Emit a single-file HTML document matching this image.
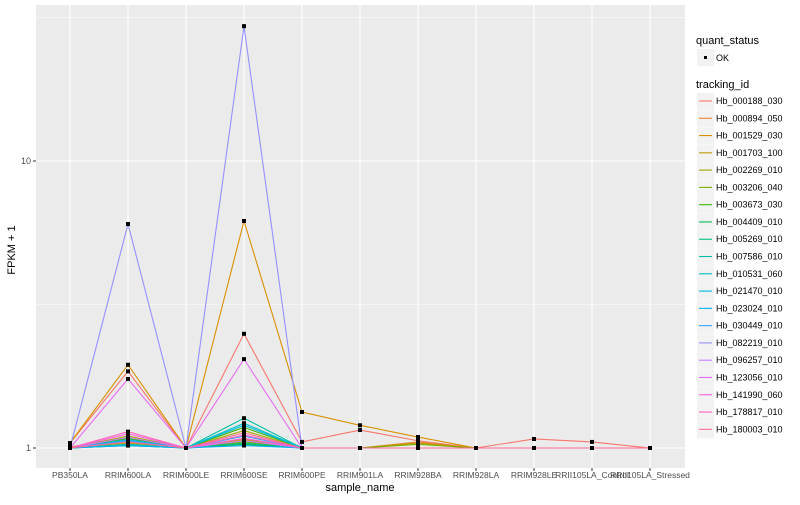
<!DOCTYPE html>
<html><head><meta charset="utf-8"><style>
body{margin:0;background:#fff;font-family:"Liberation Sans",sans-serif}
svg text{font-family:"Liberation Sans",sans-serif}
</style></head><body>
<svg id="c" width="800" height="500" xmlns="http://www.w3.org/2000/svg"></svg>
<script>
const categories=["PB350LA","RRIM600LA","RRIM600LE","RRIM600SE","RRIM600PE","RRIM901LA","RRIM928BA","RRIM928LA","RRIM928LE","RRII105LA_Control","RRII105LA_Stressed"];
const ids=["Hb_000188_030","Hb_000894_050","Hb_001529_030","Hb_001703_100","Hb_002269_010","Hb_003206_040","Hb_003673_030","Hb_004409_010","Hb_005269_010","Hb_007586_010","Hb_010531_060","Hb_021470_010","Hb_023024_010","Hb_030449_010","Hb_082219_010","Hb_096257_010","Hb_123056_010","Hb_141990_060","Hb_178817_010","Hb_180003_010"];
const colors=["#F8766D","#EA8331","#D89000","#C09B00","#A3A500","#7CAE00","#39B600","#00BB4E","#00BF7D","#00C1A3","#00BFC4","#00BAE0","#00B0F6","#35A2FF","#9590FF","#C77CFF","#E76BF3","#FA62DB","#FF62BC","#FF6C91"];
const s0=[1.04,1.85,1,2.50,1.05,1.155,1.06,1,1.075,1.05,1];
const s1=[1.01,1.06,1,1.08,1,1,1.05,1,1,1,1];
const s2=[1.04,1.95,1,6.18,1.335,1.20,1.092,1,1,1,1];
const s3=[1,1.04,1,1.07,1,1,1.04,1,1,1,1];
const s4=[1,1.10,1,1.15,1,1,1,1,1,1,1];
const s5=[1,1.03,1,1.05,1,1,1.03,1,1,1,1];
const s6=[1,1.08,1,1.18,1,1,1,1,1,1,1];
const s7=[1,1.02,1,1.03,1,1,1,1,1,1,1];
const s8=[1,1.05,1,1.04,1,1,1,1,1,1,1];
const s9=[1,1.02,1,1.27,1,1,1,1,1,1,1];
const s10=[1,1.03,1,1.22,1,1,1,1,1,1,1];
const s11=[1,1.07,1,1.20,1,1,1,1,1,1,1];
const s12=[1,1.02,1,1.02,1,1,1,1,1,1,1];
const s13=[1,1.06,1,1.10,1,1,1,1,1,1,1];
const s14=[1,6.03,1,29.5,1,1,1,1,1,1,1];
const s15=[1,1.09,1,1.06,1,1,1,1,1,1,1];
const s16=[1,1.74,1,2.04,1,1,1,1,1,1,1];
const s17=[1,1.12,1,1.08,1,1,1,1,1,1,1];
const s18=[1,1.14,1,1.11,1,1,1,1,1,1,1];
const s19=[1,1.05,1,1.13,1,1,1,1,1,1,1];
const series=[s0,s1,s2,s3,s4,s5,s6,s7,s8,s9,s10,s11,s12,s13,s14,s15,s16,s17,s18,s19];
const yTicks=[1,10];

const svg=document.getElementById('c');const NS="http://www.w3.org/2000/svg";
function mk(t,a,p){const e=document.createElementNS(NS,t);for(const k in a)e.setAttribute(k,a[k]);(p||svg).appendChild(e);return e;}
const PL=36,PR=685,PT=5,PB=468;
function X(i){return 70+i*58;}
function Y(v){return 448-287*Math.log10(v);}
const bg=mk('rect',{x:PL,y:PT,width:PR-PL,height:PB-PT,fill:'#EBEBEB'});


[Math.sqrt(10),Math.pow(10,1.5)].forEach(v=>{const l=mk('line',{x1:PL,x2:PR,y1:Y(v),y2:Y(v),stroke:'#fff','stroke-width':0.5});

});
yTicks.forEach(v=>{const l=mk('line',{x1:PL,x2:PR,y1:Y(v),y2:Y(v),stroke:'#fff','stroke-width':1.1});


const t=mk('text',{x:PL-5,y:Y(v)+3,'text-anchor':'end','font-size':9,fill:'#4D4D4D'});t.textContent=v;


mk('line',{x1:PL-3,x2:PL,y1:Y(v),y2:Y(v),stroke:'#333'});});
categories.forEach((c,i)=>{const l=mk('line',{x1:X(i),x2:X(i),y1:PT,y2:PB,stroke:'#fff','stroke-width':1.1});


mk('line',{x1:X(i),x2:X(i),y1:PB,y2:PB+3,stroke:'#333'});
const t=mk('text',{x:X(i),y:PB+10,'text-anchor':'middle','font-size':8.5,fill:'#4D4D4D'});t.textContent=c;

});
series.forEach((s,k)=>{const p=mk('polyline',{points:s.map((v,i)=>X(i)+','+Y(v)).join(' '),fill:'none',stroke:colors[k],'stroke-width':1.1});

});
series.forEach(s=>s.forEach((v,i)=>{const r=mk('rect',{x:X(i)-2,y:Y(v)-2,width:4,height:4,fill:'#000'});

}));
let t=mk('text',{x:360,y:491,'text-anchor':'middle','font-size':11});t.textContent='sample_name';


t=mk('text',{x:15,y:250,'text-anchor':'middle','font-size':11,transform:'rotate(-90 15 250)'});t.textContent='FPKM + 1';


t=mk('text',{x:696,y:44,'font-size':11});t.textContent='quant_status';


mk('rect',{x:697,y:49,width:17,height:17,fill:'#F2F2F2'});
mk('rect',{x:704,y:56,width:3,height:3,fill:'#000'});
t=mk('text',{x:716,y:61,'font-size':9});t.textContent='OK';


t=mk('text',{x:696,y:88,'font-size':11});t.textContent='tracking_id';


ids.forEach((id,k)=>{const y=101+k*17.28;
mk('rect',{x:697,y:y-8,width:17,height:17,fill:'#F2F2F2'});
mk('line',{x1:699,x2:712,y1:y,y2:y,stroke:colors[k],'stroke-width':1.1});
const tt=mk('text',{x:716,y:y+3,'font-size':9});tt.textContent=id;

});
</script></body></html>
